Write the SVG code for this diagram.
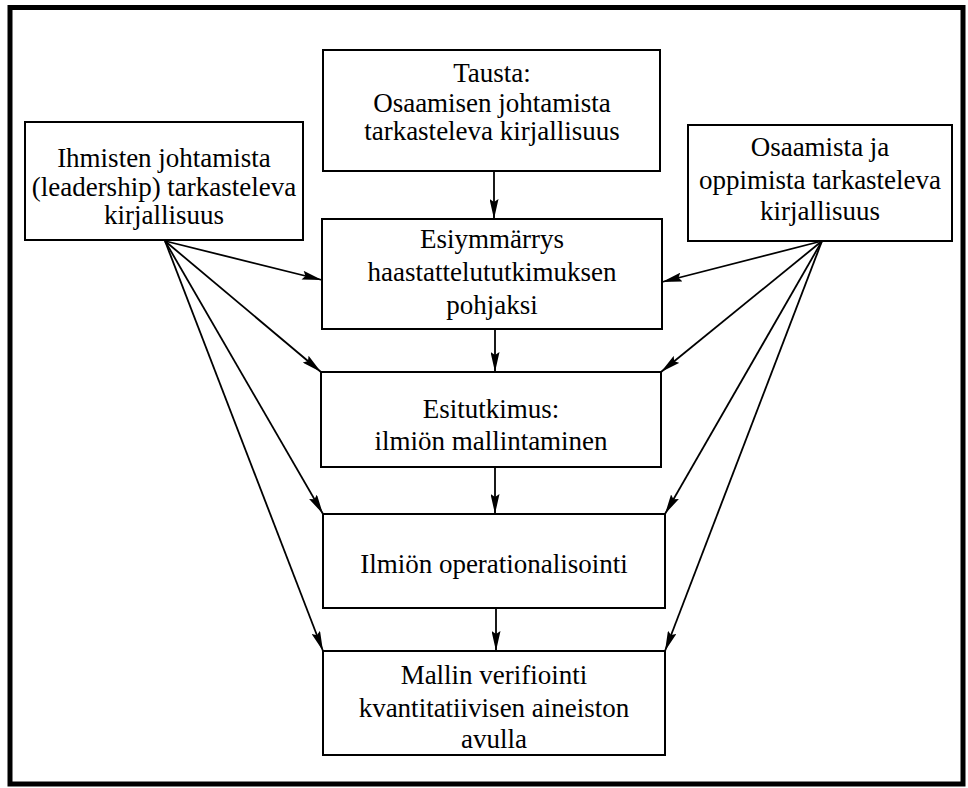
<svg xmlns="http://www.w3.org/2000/svg" width="968" height="788" viewBox="0 0 968 788">
  <style>
    .box { fill: #fff; stroke: #000; stroke-width: 2; }
    .lbl { font-family: "Liberation Serif", "Times New Roman", serif; font-size: 27px; fill: #000; text-anchor: middle; }
    .edge { fill: none; stroke: #000; stroke-width: 1.8; marker-end: url(#head); }
  </style>
  <defs>
    <marker id="head" markerUnits="userSpaceOnUse" markerWidth="20" markerHeight="9" refX="20" refY="4.5" orient="auto">
      <path d="M0,0 L20,4.5 L0,9 L3,4.5 z" fill="#000"/>
    </marker>
  </defs>

  <rect x="0" y="0" width="968" height="788" fill="#fff"/>
  <!-- outer frame -->
  <rect x="10" y="7.5" width="953" height="776.5" fill="none" stroke="#000" stroke-width="5"/>

  <g id="connectors">
    <!-- main chain -->
    <line class="edge" x1="494" y1="171" x2="494" y2="219"/>
    <line class="edge" x1="495" y1="329" x2="495" y2="372"/>
    <line class="edge" x1="495" y1="467" x2="495" y2="514"/>
    <line class="edge" x1="496" y1="608" x2="496" y2="651"/>
    <!-- leadership literature -->
    <line class="edge" x1="165" y1="241" x2="322" y2="280"/>
    <line class="edge" x1="165" y1="241" x2="321" y2="372"/>
    <line class="edge" x1="165" y1="241" x2="323" y2="514"/>
    <line class="edge" x1="165" y1="241" x2="323" y2="651"/>
    <!-- competence and learning literature -->
    <line class="edge" x1="822" y1="241" x2="662" y2="282"/>
    <line class="edge" x1="822" y1="241" x2="661" y2="372"/>
    <line class="edge" x1="822" y1="241" x2="665" y2="514"/>
    <line class="edge" x1="822" y1="241" x2="665" y2="651"/>
  </g>

  <g id="tausta">
    <rect class="box" x="323" y="50" width="337" height="121"/>
    <text class="lbl" x="492" y="82">Tausta:</text>
    <text class="lbl" x="492" y="112">Osaamisen johtamista</text>
    <text class="lbl" x="492" y="140">tarkasteleva kirjallisuus</text>
  </g>

  <g id="leadership">
    <rect class="box" x="25" y="122" width="278" height="118"/>
    <text class="lbl" x="164" y="167">Ihmisten johtamista</text>
    <text class="lbl" x="164" y="196">(leadership) tarkasteleva</text>
    <text class="lbl" x="164" y="224">kirjallisuus</text>
  </g>

  <g id="oppiminen">
    <rect class="box" x="688" y="125" width="264" height="116"/>
    <text class="lbl" x="820" y="156">Osaamista ja</text>
    <text class="lbl" x="820" y="189">oppimista tarkasteleva</text>
    <text class="lbl" x="820" y="220">kirjallisuus</text>
  </g>

  <g id="esiymmarrys">
    <rect class="box" x="322" y="219" width="340" height="110"/>
    <text class="lbl" x="492" y="248">Esiymmärrys</text>
    <text class="lbl" x="492" y="281">haastattelututkimuksen</text>
    <text class="lbl" x="492" y="314">pohjaksi</text>
  </g>

  <g id="esitutkimus">
    <rect class="box" x="321" y="372" width="340" height="95"/>
    <text class="lbl" x="491" y="418">Esitutkimus:</text>
    <text class="lbl" x="491" y="450">ilmiön mallintaminen</text>
  </g>

  <g id="operationalisointi">
    <rect class="box" x="323" y="514" width="342" height="94"/>
    <text class="lbl" x="494" y="573">Ilmiön operationalisointi</text>
  </g>

  <g id="verifiointi">
    <rect class="box" x="323" y="651" width="342" height="104"/>
    <text class="lbl" x="494" y="684">Mallin verifiointi</text>
    <text class="lbl" x="494" y="717">kvantitatiivisen aineiston</text>
    <text class="lbl" x="494" y="748">avulla</text>
  </g>
</svg>
